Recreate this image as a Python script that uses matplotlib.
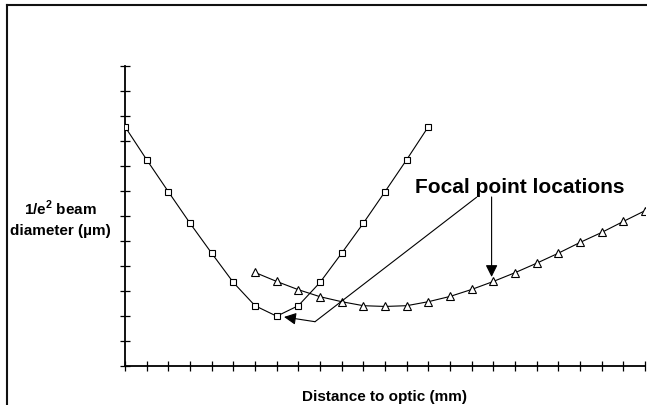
import matplotlib
matplotlib.use("Agg")
import matplotlib.pyplot as plt
from matplotlib.lines import Line2D

plt.rcParams['font.family'] = ['Liberation Sans', 'DejaVu Sans']
plt.rcParams['mathtext.fontset'] = 'custom'
plt.rcParams['mathtext.bf'] = 'Liberation Sans:bold'
plt.rcParams['mathtext.rm'] = 'Liberation Sans:bold'

# Data (arbitrary units)
square_x = list(range(0, 15))
square_y = [9.56, 8.24, 6.96, 5.70, 4.50, 3.33, 2.40, 1.98, 2.40, 3.33, 4.50, 5.70, 6.96, 8.24, 9.56]
tri_x = list(range(6, 25))
tri_y = [3.73, 3.37, 3.04, 2.76, 2.56, 2.40, 2.37, 2.40, 2.56, 2.77, 3.05, 3.37,
         3.72, 4.10, 4.50, 4.93, 5.33, 5.77, 6.20]
x_ticks = list(range(0, 25))
y_ticks = list(range(0, 13))

W, H = 647, 406
fig = plt.figure(figsize=(W / 100, H / 100), dpi=100)
ax = fig.add_axes([125 / W, 1 - 366.7 / H, 520 / W, 300 / H])
ax.patch.set_alpha(0)

ax.plot(square_x, square_y, color='black', lw=0.8, marker='s', ms=5,
        mfc='white', mec='black', mew=0.8, zorder=3)
ax.plot(tri_x, tri_y, color='black', lw=0.8, marker='^', ms=5.5,
        mfc='white', mec='black', mew=0.8, zorder=3)

ax.set_xlim(0, 24)
ax.set_ylim(0, 12)
ax.set_xticks(x_ticks)
ax.set_yticks(y_ticks)
ax.set_xticklabels([])
ax.set_yticklabels([])
ax.tick_params(direction='inout', length=7, width=0.9, color='black')
for s in ['top', 'right']:
    ax.spines[s].set_visible(False)
for s in ['left', 'bottom']:
    ax.spines[s].set_linewidth(1.3)
    ax.spines[s].set_clip_on(False)

# Annotation
ax.text(13.38, 6.96, 'Focal point locations', fontsize=15, fontweight='bold',
        ha='left', va='baseline')
ax.annotate('', xy=(8.77, 1.76), xytext=(16.23, 6.74),
            arrowprops=dict(arrowstyle='-', color='black', lw=0.8,
                            shrinkA=0, shrinkB=0))
ax.annotate('', xy=(7.34, 1.95), xytext=(8.77, 1.76),
            arrowprops=dict(arrowstyle='-|>', color='black', lw=0.8,
                            mutation_scale=18, shrinkA=0, shrinkB=0))
ax.annotate('', xy=(16.92, 3.55), xytext=(16.92, 6.75),
            arrowprops=dict(arrowstyle='-|>', color='black', lw=0.8,
                            mutation_scale=18, shrinkA=0, shrinkB=0))

# Axis labels
fig.text(384 / W, 1 - 401 / H, 'Distance to optic (mm)', fontsize=11,
         fontweight='bold', ha='center', va='baseline')
fig.text(60 / W, 1 - 215 / H, r'1/e$^{\mathbf{2}}$ beam', fontsize=11,
         fontweight='bold', ha='center', va='baseline')
fig.text(60 / W, 1 - 235 / H, 'diameter (µm)', fontsize=11,
         fontweight='bold', ha='center', va='baseline')

# Border frame (top and left visible)
bx, by = 6.7 / W, 1 - 5.5 / H
fig.add_artist(Line2D([bx, 1.01], [by, by], transform=fig.transFigure,
                      color='#111111', lw=1.5))
fig.add_artist(Line2D([bx, bx], [-0.01, by], transform=fig.transFigure,
                      color='#111111', lw=1.5))

fig.savefig('out.png', dpi=100)
